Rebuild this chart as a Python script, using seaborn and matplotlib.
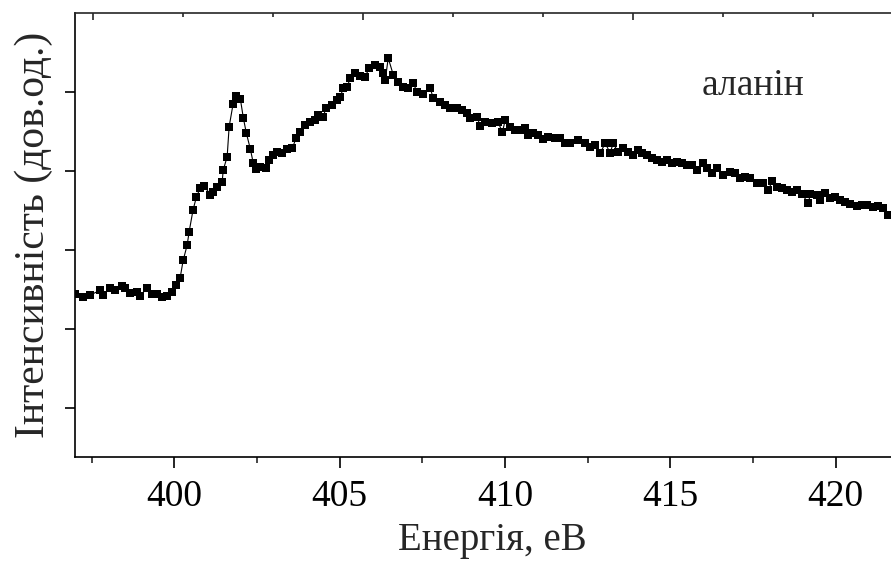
import matplotlib
matplotlib.use("Agg")
import matplotlib.pyplot as plt
from matplotlib.ticker import MultipleLocator, NullFormatter
import numpy as np
import pandas as pd
import seaborn as sns

# N K-edge absorption spectrum of alanine (photon energy in eV, intensity in arb. units)
energy = [
    397.00, 397.25, 397.46, 397.76, 397.85, 398.07, 398.22, 398.43, 398.52, 398.67,
    398.88, 398.97, 399.18, 399.33, 399.49, 399.64, 399.79, 399.94, 400.06, 400.18,
    400.27, 400.39, 400.45, 400.57, 400.67, 400.79, 400.91, 401.09, 401.18, 401.30,
    401.45, 401.48, 401.60, 401.66, 401.78, 401.87, 402.00, 402.09, 402.18, 402.30,
    402.39, 402.48, 402.60, 402.78, 402.87, 402.99, 403.11, 403.26, 403.42, 403.57,
    403.69, 403.81, 403.96, 404.11, 404.26, 404.35, 404.50, 404.59, 404.78, 404.93,
    405.02, 405.11, 405.23, 405.32, 405.47, 405.62, 405.77, 405.89, 406.08, 406.23,
    406.32, 406.38, 406.47, 406.62, 406.77, 406.92, 407.07, 407.22, 407.35, 407.53,
    407.74, 407.83, 408.04, 408.19, 408.34, 408.55, 408.71, 408.86, 408.95, 409.16,
    409.25, 409.40, 409.61, 409.79, 409.92, 410.01, 410.16, 410.31, 410.46, 410.61,
    410.70, 410.85, 411.00, 411.15, 411.31, 411.52, 411.67, 411.82, 411.97, 412.21,
    412.42, 412.58, 412.73, 412.88, 413.03, 413.18, 413.27, 413.42, 413.57, 413.72,
    413.88, 414.03, 414.15, 414.30, 414.45, 414.60, 414.75, 414.90, 415.05, 415.21,
    415.36, 415.51, 415.66, 415.81, 415.99, 416.11, 416.26, 416.41, 416.60, 416.81,
    416.96, 417.11, 417.26, 417.41, 417.62, 417.81, 417.96, 418.08, 418.23, 418.38,
    418.53, 418.68, 418.83, 418.98, 419.17, 419.23, 419.44, 419.53, 419.68, 419.83,
    419.98, 420.13, 420.28, 420.44, 420.65, 420.80, 420.95, 421.13, 421.28, 421.43,
    421.58,
]
intensity = [
    1.44, 1.41, 1.43, 1.49, 1.43, 1.52, 1.49, 1.54, 1.52, 1.46,
    1.47, 1.42, 1.52, 1.44, 1.44, 1.41, 1.42, 1.47, 1.56, 1.65,
    1.87, 2.06, 2.23, 2.51, 2.67, 2.79, 2.81, 2.70, 2.73, 2.80,
    2.86, 3.01, 3.18, 3.56, 3.85, 3.95, 3.91, 3.67, 3.48, 3.28,
    3.10, 3.03, 3.05, 3.04, 3.14, 3.20, 3.24, 3.23, 3.28, 3.29,
    3.42, 3.49, 3.58, 3.62, 3.65, 3.71, 3.68, 3.80, 3.84, 3.90,
    3.94, 4.05, 4.06, 4.18, 4.24, 4.20, 4.19, 4.30, 4.34, 4.32,
    4.24, 4.15, 4.43, 4.22, 4.13, 4.06, 4.05, 4.11, 4.00, 3.97,
    4.05, 3.92, 3.87, 3.84, 3.80, 3.80, 3.77, 3.73, 3.67, 3.68,
    3.57, 3.62, 3.61, 3.62, 3.49, 3.65, 3.56, 3.52, 3.52, 3.54,
    3.46, 3.48, 3.46, 3.41, 3.43, 3.42, 3.42, 3.35, 3.35, 3.39,
    3.35, 3.30, 3.33, 3.23, 3.35, 3.23, 3.35, 3.24, 3.29, 3.24,
    3.20, 3.27, 3.23, 3.20, 3.17, 3.14, 3.11, 3.14, 3.10, 3.11,
    3.10, 3.08, 3.08, 3.01, 3.10, 3.04, 2.98, 3.04, 2.95, 2.99,
    2.97, 2.91, 2.92, 2.91, 2.85, 2.85, 2.76, 2.87, 2.80, 2.78,
    2.76, 2.73, 2.76, 2.71, 2.59, 2.71, 2.70, 2.63, 2.72, 2.66,
    2.67, 2.63, 2.61, 2.58, 2.56, 2.57, 2.57, 2.54, 2.56, 2.53,
    2.44,
]

spectrum = pd.DataFrame({"energy": energy, "intensity": intensity})

sns.set_style("ticks")
plt.rcParams["font.family"] = ["Liberation Serif", "DejaVu Serif"]

fig = plt.figure(figsize=(8.91, 5.62), dpi=100)
ax = fig.add_axes([75 / 891, 105 / 562, 816 / 891, 444 / 562])

sns.lineplot(data=spectrum, x="energy", y="intensity", ax=ax,
             color="black", linewidth=0.8, marker="s", markersize=5.4,
             markeredgewidth=0, markerfacecolor="black", sort=False)

ax.set_xlim(397.0, 421.67)
ax.set_ylim(-0.62, 5.0)
ax.xaxis.set_major_locator(MultipleLocator(5))
ax.xaxis.set_minor_locator(MultipleLocator(2.5))
ax.set_yticks([0, 1, 2, 3, 4])
ax.yaxis.set_major_formatter(NullFormatter())

ax.tick_params(axis="x", which="major", direction="out", length=8, width=1.2,
               labelsize=27, pad=8, colors="black")
ax.tick_params(axis="x", which="minor", direction="out", length=4, width=1.2)
ax.tick_params(axis="y", which="major", direction="out", length=7, width=1.2,
               left=True, colors="black")

for side in ("left", "bottom"):
    ax.spines[side].set_linewidth(1.2)
    ax.spines[side].set_color("black")
ax.spines["right"].set_visible(False)
ax.spines["top"].set_visible(False)

# secondary scale along the top edge, ticks only
top = ax.twiny()
top.set_xlim(-0.2, 8.867)
top.xaxis.set_major_locator(MultipleLocator(3))
top.xaxis.set_minor_locator(MultipleLocator(1))
top.xaxis.set_major_formatter(NullFormatter())
top.tick_params(axis="x", which="major", direction="in", length=5, width=1.2)
top.tick_params(axis="x", which="minor", direction="in", length=3, width=1.2)
for side in ("left", "bottom", "right"):
    top.spines[side].set_visible(False)
top.spines["top"].set_linewidth(1.2)
top.spines["top"].set_visible(True)

ax.set_xlabel("Енергія, еВ", fontsize=28, va="baseline")
ax.xaxis.set_label_coords(0.512, -0.2095)
ax.set_ylabel("Інтенсивність (дов.од.)", fontsize=30, labelpad=5)

ax.text(417.5, 3.96, "аланін", fontsize=27, ha="center", va="baseline")

fig.savefig("out.png", dpi=100)
